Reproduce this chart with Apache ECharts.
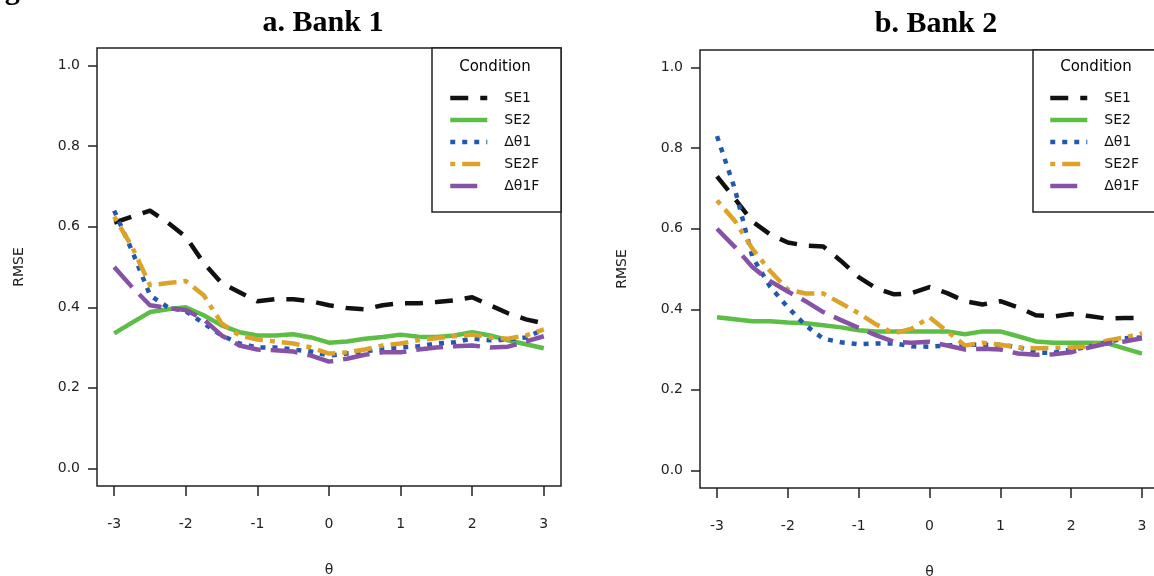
<!DOCTYPE html>
<html lang="en">
<head>
    <meta charset="UTF-8">
    <title>RMSE by theta</title>
    <style>
        body { margin: 0; background: #fff; }
        #chart { width: 1154px; height: 576px; }
    </style>
    <script src="https://cdn.jsdelivr.net/npm/echarts@6/dist/echarts.min.js"></script>
</head>
<body>
    <div id="chart"></div>
    <script>
        // theta grid (x axis)
        var thetas = [-3, -2.75, -2.5, -2.25, -2, -1.75, -1.5, -1.25, -1, -0.75, -0.5, -0.25, 0,
                      0.25, 0.5, 0.75, 1, 1.25, 1.5, 1.75, 2, 2.25, 2.5, 2.75, 3];
        var xTicks = [-3, -2, -1, 0, 1, 2, 3];
        var yTicks = [0, 0.2, 0.4, 0.6, 0.8, 1.0];
        var names = ['SE1', 'SE2', 'Δθ1', 'SE2F', 'Δθ1F'];

        // a. Bank 1
        var bank1SE1  = [0.61, 0.625, 0.64, 0.61, 0.575, 0.51, 0.46, 0.437, 0.415, 0.42, 0.42, 0.415, 0.405, 0.398, 0.395, 0.405, 0.41, 0.41, 0.413, 0.417, 0.425, 0.405, 0.385, 0.37, 0.36];
        var bank1SE2  = [0.335, 0.362, 0.388, 0.395, 0.40, 0.38, 0.355, 0.338, 0.33, 0.33, 0.333, 0.325, 0.312, 0.315, 0.322, 0.326, 0.332, 0.327, 0.326, 0.33, 0.338, 0.33, 0.318, 0.308, 0.298];
        var bank1D1   = [0.64, 0.54, 0.43, 0.40, 0.39, 0.36, 0.33, 0.31, 0.30, 0.30, 0.295, 0.29, 0.28, 0.285, 0.29, 0.298, 0.30, 0.303, 0.31, 0.313, 0.322, 0.318, 0.32, 0.325, 0.345];
        var bank1SE2F = [0.625, 0.55, 0.455, 0.46, 0.465, 0.43, 0.36, 0.33, 0.32, 0.315, 0.31, 0.30, 0.285, 0.288, 0.295, 0.305, 0.31, 0.318, 0.323, 0.328, 0.332, 0.325, 0.322, 0.33, 0.345];
        var bank1D1F  = [0.50, 0.45, 0.405, 0.398, 0.393, 0.37, 0.33, 0.305, 0.295, 0.293, 0.29, 0.28, 0.265, 0.272, 0.282, 0.288, 0.288, 0.295, 0.30, 0.303, 0.305, 0.30, 0.302, 0.315, 0.328];

        // b. Bank 2
        var bank2SE1  = [0.73, 0.675, 0.618, 0.586, 0.566, 0.558, 0.556, 0.52, 0.48, 0.452, 0.437, 0.44, 0.455, 0.44, 0.42, 0.412, 0.42, 0.405, 0.385, 0.382, 0.388, 0.383, 0.377, 0.378, 0.378];
        var bank2SE2  = [0.38, 0.375, 0.37, 0.37, 0.367, 0.365, 0.36, 0.355, 0.348, 0.345, 0.345, 0.345, 0.345, 0.345, 0.338, 0.345, 0.345, 0.333, 0.32, 0.317, 0.317, 0.317, 0.316, 0.303, 0.29];
        var bank2D1   = [0.83, 0.70, 0.53, 0.456, 0.405, 0.36, 0.327, 0.318, 0.313, 0.315, 0.315, 0.308, 0.307, 0.31, 0.312, 0.312, 0.312, 0.306, 0.292, 0.292, 0.30, 0.307, 0.318, 0.328, 0.33];
        var bank2SE2F = [0.67, 0.62, 0.55, 0.495, 0.449, 0.439, 0.439, 0.415, 0.39, 0.362, 0.34, 0.352, 0.38, 0.345, 0.31, 0.317, 0.312, 0.305, 0.303, 0.304, 0.305, 0.307, 0.322, 0.33, 0.34];
        var bank2D1F  = [0.60, 0.555, 0.505, 0.47, 0.444, 0.42, 0.393, 0.373, 0.354, 0.335, 0.319, 0.317, 0.319, 0.31, 0.30, 0.302, 0.30, 0.29, 0.287, 0.288, 0.293, 0.305, 0.315, 0.32, 0.328];

        var colors = ['#111111', '#5cbe47', '#2458ad', '#dca229', '#8552a8'];
        var dashes = [[18, 12], 'solid', [5, 7], [5, 7, 18, 7], [27, 10]];

        var chart = echarts.init(document.getElementById('chart'));

        function pairs(vals) {
            return thetas.map(function (t, i) { return [t, vals[i]]; });
        }

        function makeSeries(k, vals, idx) {
            return {
                name: names[k],
                type: 'line',
                xAxisIndex: idx,
                yAxisIndex: idx,
                data: pairs(vals),
                symbol: 'none',
                silent: true,
                lineStyle: { color: colors[k], width: 4.5, type: dashes[k], cap: 'butt', join: 'round' },
                itemStyle: { color: colors[k] }
            };
        }

        var axisFont = { fontFamily: 'DejaVu Sans', fontSize: 14, color: '#222' };

        function xAxis(idx) {
            return {
                type: 'value', gridIndex: idx, min: -3.24, max: 3.24,
                name: 'θ', nameLocation: 'middle', nameGap: 77,
                nameTextStyle: axisFont,
                axisLine: { show: false, onZero: false },
                splitLine: { show: false },
                axisTick: { length: 10, lineStyle: { color: '#222', width: 1.5 }, customValues: xTicks },
                axisLabel: Object.assign({ margin: 31, customValues: xTicks, formatter: function (v) { return String(v); } }, axisFont)
            };
        }

        function yAxis(idx) {
            return {
                type: 'value', gridIndex: idx, min: -0.044, max: 1.044,
                name: 'RMSE', nameLocation: 'middle', nameGap: 71,
                nameTextStyle: axisFont,
                axisLine: { show: false, onZero: false },
                splitLine: { show: false },
                axisTick: { length: 9, lineStyle: { color: '#222', width: 1.5 }, customValues: yTicks },
                axisLabel: Object.assign({ margin: 17, customValues: yTicks, formatter: function (v) { return v.toFixed(1); } }, axisFont)
            };
        }

        function legend(x) {
            return {
                orient: 'vertical', left: x, top: 90, padding: 0,
                itemWidth: 37, itemHeight: 16, itemGap: 6,
                selectedMode: false,
                data: names,
                lineStyle: { width: 4.5 },
                itemStyle: { opacity: 0, borderWidth: 0 },
                textStyle: { fontFamily: 'DejaVu Sans', fontSize: 14, color: '#111', lineHeight: 16, padding: [0, 0, 0, 12] }
            };
        }

        function txt(x, y, s, font) {
            return { type: 'text', x: x, y: y, z: 5, style: { text: s, font: font, fill: '#000', textAlign: 'center', textVerticalAlign: 'middle' } };
        }

        var gridStyle = { show: true, borderColor: '#222', borderWidth: 1.5, backgroundColor: 'transparent', containLabel: false, outerBoundsMode: 'none' };

        var option = {
            animation: false,
            grid: [
                Object.assign({ left: 97, top: 48, width: 464, height: 438 }, gridStyle),
                Object.assign({ left: 700, top: 50, width: 459, height: 438 }, gridStyle)
            ],
            xAxis: [xAxis(0), xAxis(1)],
            yAxis: [yAxis(0), yAxis(1)],
            legend: [legend(448), legend(1048)],
            series: [
                makeSeries(0, bank1SE1, 0), makeSeries(1, bank1SE2, 0), makeSeries(2, bank1D1, 0),
                makeSeries(3, bank1SE2F, 0), makeSeries(4, bank1D1F, 0),
                makeSeries(0, bank2SE1, 1), makeSeries(1, bank2SE2, 1), makeSeries(2, bank2D1, 1),
                makeSeries(3, bank2SE2F, 1), makeSeries(4, bank2D1F, 1)
            ],
            graphic: [
                { type: 'text', x: -22, y: 6, z: 5, style: { text: 'Figure 2', font: 'bold 30px "Liberation Serif"', fill: '#000', textVerticalAlign: 'bottom' } },
                txt(323, 23, 'a. Bank 1', 'bold 30px "Liberation Serif"'),
                txt(936, 24, 'b. Bank 2', 'bold 30px "Liberation Serif"'),
                { type: 'rect', z: 1, shape: { x: 432, y: 48, width: 129, height: 164 }, style: { fill: '#fff', stroke: '#222', lineWidth: 1.5 } },
                { type: 'rect', z: 1, shape: { x: 1033, y: 50, width: 126, height: 162 }, style: { fill: '#fff', stroke: '#222', lineWidth: 1.5 } },
                txt(495, 67, 'Condition', '15px "DejaVu Sans"'),
                txt(1096, 67, 'Condition', '15px "DejaVu Sans"')
            ]
        };

        chart.setOption(option);
    </script>
</body>
</html>
